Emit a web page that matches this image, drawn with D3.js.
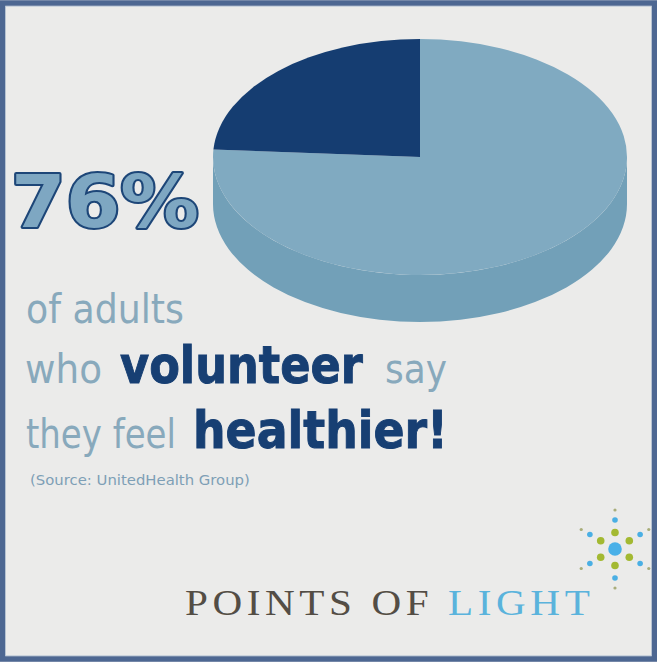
<!DOCTYPE html>
<html>
<head>
<meta charset="utf-8">
<script src="https://cdn.jsdelivr.net/npm/d3@7"></script>
<style>
  html, body { margin: 0; padding: 0; background: #ebebea; }
  svg { display: block; }
</style>
</head>
<body>
<svg id="chart" width="657" height="662"></svg>
<script>
// ---- data ----
const categories = ["Volunteers who feel healthier", "Others"];
const values = [76, 24];
const headline = values[0] + "%";
const line1 = [{t: "of adults", bold: false}];
const line2 = [{t: "who", bold: false}, {t: "volunteer", bold: true}, {t: "say", bold: false}];
const line3 = [{t: "they feel", bold: false}, {t: "healthier!", bold: true}];
const sourceText = "(Source: UnitedHealth Group)";
const brandDark = "POINTS OF ";
const brandLight = "LIGHT";

// ---- styles ----
const topColors = ["#80aac1", "#153d71"];
const sideColors = ["#72a0b8", "#0f3060"];
const lightText = "#88a9bc";
const darkText = "#173f73";

const svg = d3.select("#chart");
const W = 657, H = 662;

svg.append("rect").attr("x", 0).attr("y", 0).attr("width", W).attr("height", H).attr("fill", "#ebebea");
svg.append("rect").attr("x", 2.5).attr("y", 3).attr("width", W - 5).attr("height", H - 6)
  .attr("fill", "none").attr("stroke", "#4d6792").attr("stroke-width", 5.5);
svg.append("rect").attr("x", 5.5).attr("y", 6.5).attr("width", W - 11).attr("height", H - 13)
  .attr("fill", "none").attr("stroke", "#a9bcd0").attr("stroke-width", 1).attr("opacity", 0.5);

// ---- 3D pie ----
const cx = 420, cy = 157, rx = 207, ry = 118, depth = 47;
const pie = d3.pie().sort(null).value(d => d)(values);
const pt = (a, dy = 0) => [cx + rx * Math.sin(a), cy - ry * Math.cos(a) + dy];

const g = svg.append("g");
pie.forEach((s, i) => {
  const a0 = Math.max(s.startAngle, Math.PI / 2);
  const a1 = Math.min(s.endAngle, 3 * Math.PI / 2);
  if (a1 <= a0) return;
  const p0 = pt(a0), p1 = pt(a1), q1 = pt(a1, depth), q0 = pt(a0, depth);
  const large = (a1 - a0) > Math.PI ? 1 : 0;
  const d = `M${p0}A${rx},${ry} 0 ${large} 1 ${p1}L${q1}A${rx},${ry} 0 ${large} 0 ${q0}Z`;
  g.append("path").attr("d", d).attr("fill", sideColors[i]);
});
pie.forEach((s, i) => {
  const p0 = pt(s.startAngle), p1 = pt(s.endAngle);
  const large = (s.endAngle - s.startAngle) > Math.PI ? 1 : 0;
  const d = `M${cx},${cy}L${p0}A${rx},${ry} 0 ${large} 1 ${p1}Z`;
  g.append("path").attr("d", d).attr("fill", topColors[i]);
});

// helper: text fitted horizontally to a target width by scaling
function fitText(parent, str, x, y, len, attrs) {
  const grp = parent.append("g");
  const t = grp.append("text").attr("x", 0).attr("y", 0).text(str);
  Object.entries(attrs).forEach(([k, v]) => t.attr(k, v));
  const natural = t.node().getComputedTextLength();
  const sx = len / natural;
  grp.attr("transform", `translate(${x},${y}) scale(${sx},1)`);
  return t;
}

// ---- headline ----
fitText(svg, headline, 11, 227, 188, {
  "font-family": "DejaVu Sans", "font-weight": "bold", "font-size": 73,
  "fill": "#7ea7c2", "stroke": "#1d4678", "stroke-width": 4,
  "stroke-linejoin": "round", "paint-order": "stroke"
});

// ---- text lines ----
const layout = [
  {segs: line1, y: 323, xs: [26], lens: [158]},
  {segs: line2, y: 383, xs: [25, 120, 385], lens: [77, 243, 62]},
  {segs: line3, y: 448, xs: [26, 193], lens: [150, 255]}
];
layout.forEach(L => {
  L.segs.forEach((s, j) => {
    fitText(svg, s.t, L.xs[j], L.y, L.lens[j], {
      "font-family": "DejaVu Sans",
      "font-weight": s.bold ? "bold" : "normal",
      "font-size": s.bold ? 52 : 40,
      "fill": s.bold ? darkText : lightText,
      "stroke": s.bold ? darkText : "none",
      "stroke-width": s.bold ? 1 : 0
    });
  });
});

fitText(svg, sourceText, 30, 485, 220, {
  "font-family": "DejaVu Sans", "font-size": 14.5, "fill": "#7e9fb6"
});

// ---- brand ----
const brandG = svg.append("g");
const brand = brandG.append("text").attr("x", 0).attr("y", 0)
  .attr("font-family", "Liberation Serif, DejaVu Serif, serif").attr("font-size", 36)
  .attr("letter-spacing", 4);
brand.append("tspan").attr("fill", "#534d45").text(brandDark);
brand.append("tspan").attr("fill", "#5ab3dc").text(brandLight);
const bw = brand.node().getComputedTextLength() - 4;
brandG.attr("transform", `translate(185,615) scale(${405 / bw},1)`);

// ---- logo ----
const lx = 615, ly = 549;
const logo = svg.append("g");
const dirs = d3.range(6).map(k => k * Math.PI / 3);
dirs.forEach(a => {
  const dx = Math.sin(a), dy = -Math.cos(a);
  logo.append("circle").attr("cx", lx + dx * 39).attr("cy", ly + dy * 39).attr("r", 1.6).attr("fill", "#a9ad7a");
  logo.append("circle").attr("cx", lx + dx * 29).attr("cy", ly + dy * 29).attr("r", 2.8).attr("fill", "#4aafe4");
  logo.append("circle").attr("cx", lx + dx * 16.5).attr("cy", ly + dy * 16.5).attr("r", 3.8).attr("fill", "#a3b932");
});
logo.append("circle").attr("cx", lx).attr("cy", ly).attr("r", 6.8).attr("fill", "#49b0e8");
</script>
</body>
</html>
